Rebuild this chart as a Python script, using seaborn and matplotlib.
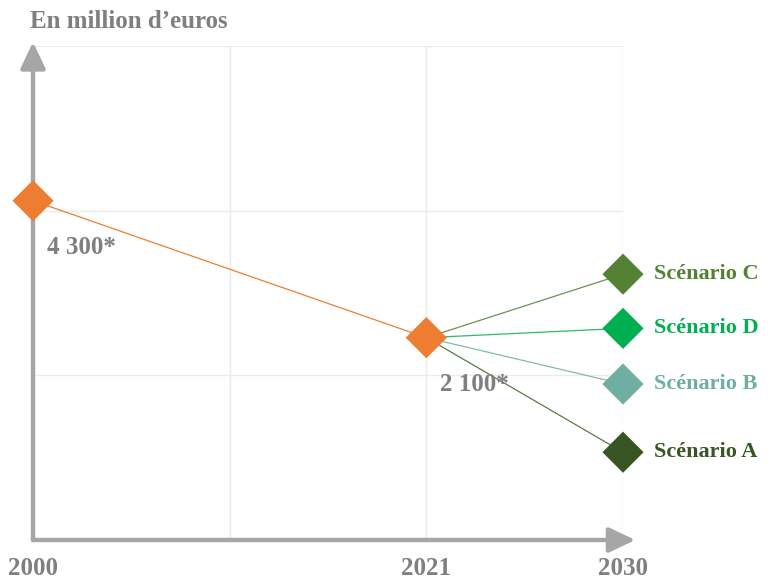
import matplotlib
matplotlib.use("Agg")
import matplotlib.pyplot as plt
import pandas as pd
import seaborn as sns
from matplotlib.patches import FancyArrowPatch

# ---- data ----
categories = ["2000", "", "2021", "2030"]          # x categories (blank = spacer column)
history_years = ["2000", "2021"]
history_values = [4300, 2100]
history_labels = ["4 300*", "2 100*"]
scenario_names = ["Scénario C", "Scénario D", "Scénario B", "Scénario A"]
scenario_values = [3120, 2250, 1355, 260]
scenario_colors = ["#548235", "#00B050", "#70ADA2", "#375623"]
line_colors = ["#6F9150", "#2DBB6A", "#82BAB0", "#5B7A47"]
history_color = "#ED7D31"
grey = "#7F7F7F"
axis_grey = "#A6A6A6"

sns.set_theme(style="white")
plt.rcParams["font.family"] = ["Liberation Serif", "DejaVu Serif"]
plt.rcParams["font.weight"] = "bold"

pos = {c: i for i, c in enumerate(categories)}

# line segments table
rows = []
for yr, v in zip(history_years, history_values):
    rows.append({"series": "hist", "x": pos[yr], "value": v})
for name, v in zip(scenario_names, scenario_values):
    rows.append({"series": name, "x": pos["2021"], "value": history_values[-1]})
    rows.append({"series": name, "x": pos["2030"], "value": v})
df_lines = pd.DataFrame(rows)

pts = [{"label": "hist_" + yr, "x": pos[yr], "value": v} for yr, v in zip(history_years, history_values)]
pts += [{"label": n, "x": pos["2030"], "value": v} for n, v in zip(scenario_names, scenario_values)]
df_pts = pd.DataFrame(pts)

line_pal = {"hist": history_color}
line_pal.update(dict(zip(scenario_names, line_colors)))
pt_pal = {"hist_" + yr: history_color for yr in history_years}
pt_pal.update(dict(zip(scenario_names, scenario_colors)))

fig = plt.figure(figsize=(7.72, 5.81), dpi=100)
ax = fig.add_axes([33 / 772, 1 - 540 / 581, (623 - 33) / 772, (540 - 46) / 581])

sns.lineplot(data=df_lines, x="x", y="value", hue="series", palette=line_pal,
             estimator=None, sort=False, legend=False, linewidth=0.9, ax=ax)
sns.scatterplot(data=df_pts, x="x", y="value", hue="label", palette=pt_pal,
                marker="D", s=440, linewidth=0, legend=False, ax=ax, zorder=6,
                clip_on=False)

ymin, ymax = -1150, 6785
ax.set_xlim(0, len(categories) - 1)
ax.set_ylim(ymin, ymax)
step = (ymax - ymin) / 3
ax.set_yticks([ymin + k * step for k in range(4)])
ax.set_yticklabels([])
ax.set_xticks(range(len(categories)))
ax.set_xticklabels(categories, fontsize=18, color=grey, fontweight="bold")
ax.tick_params(axis="both", length=0)
ax.tick_params(axis="x", pad=12)
ax.grid(True, color="#EBEBEB", linewidth=1)
ax.set_xlabel("")
ax.set_ylabel("")
for s in ax.spines.values():
    s.set_visible(False)

# axis arrows
for tip in [(0, 1.008), (1.021, 0)]:
    arr = FancyArrowPatch((0, 0), tip, transform=ax.transAxes,
                          arrowstyle="-|>,head_length=0.8,head_width=0.38",
                          mutation_scale=20, color=axis_grey, linewidth=3.2,
                          shrinkA=0, shrinkB=0, clip_on=False, zorder=5)
    ax.add_patch(arr)

# value labels
for yr, v, lab in zip(history_years, history_values, history_labels):
    ax.annotate(lab, (pos[yr], v), xytext=(10, -34), textcoords="offset points",
                ha="left", va="center", fontsize=18, color=grey, fontweight="bold", zorder=7)

# scenario labels
for n, v, c in zip(scenario_names, scenario_values, scenario_colors):
    ax.annotate(n, (pos["2030"], v), xytext=(22, 0), textcoords="offset points",
                ha="left", va="center", fontsize=16, color=c, fontweight="bold",
                annotation_clip=False)

fig.text(30 / 772, 1 - 22 / 581, "En million d\u2019euros", ha="left", va="center",
         fontsize=18, color=grey, fontweight="bold")

fig.savefig("out.png", dpi=100)
